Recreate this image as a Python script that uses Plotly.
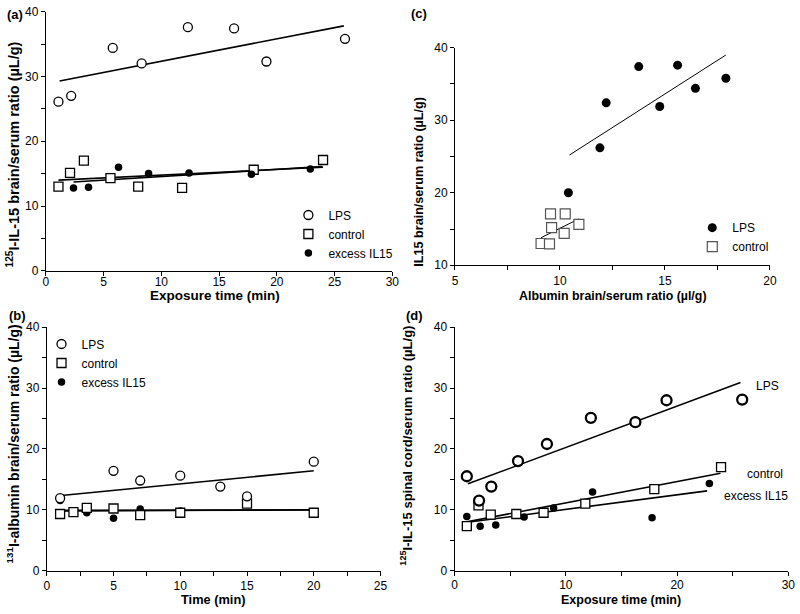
import plotly.graph_objects as go

# ---------------- data ----------------
# Panel (a): 125I-IL-15 brain/serum ratio vs exposure time
a_lps_x = [1.1, 2.2, 5.8, 8.3, 12.3, 16.3, 19.1, 25.9]
a_lps_y = [26.1, 27.0, 34.4, 32.0, 37.6, 37.4, 32.3, 35.8]
a_ctrl_x = [1.1, 2.1, 3.3, 5.6, 8.0, 11.8, 18.0, 24.0]
a_ctrl_y = [13.0, 15.1, 17.0, 14.3, 13.0, 12.8, 15.6, 17.1]
a_exc_x = [2.4, 3.7, 6.3, 8.9, 12.4, 17.8, 22.9]
a_exc_y = [12.8, 12.9, 16.0, 15.0, 15.1, 14.9, 15.7]
a_lps_fit_x = [1.2, 25.8]
a_lps_fit_y = [29.3, 37.8]
a_ctrl_fit_x = [1.1, 24.0]
a_ctrl_fit_y = [14.0, 16.0]
a_exc_fit_x = [2.4, 23.9]
a_exc_fit_y = [13.7, 16.1]

# Panel (b): 131I-albumin brain/serum ratio vs time
b_lps_x = [1, 5, 7, 10, 13, 15, 20]
b_lps_y = [11.9, 16.4, 14.8, 15.6, 13.8, 12.2, 17.9]
b_ctrl_x = [1, 2, 3, 5, 7, 10, 15, 20]
b_ctrl_y = [9.3, 9.6, 10.3, 10.2, 9.1, 9.5, 11.0, 9.5]
b_exc_x = [1, 3, 5, 7, 10, 15, 20]
b_exc_y = [11.5, 9.5, 8.6, 10.1, 9.8, 11.3, 9.6]
b_lps_fit_x = [0.9, 20.0]
b_lps_fit_y = [12.3, 16.4]
b_ctrl_fit_x = [0.9, 20.3]
b_ctrl_fit_y = [9.8, 10.0]
b_exc_fit_x = [0.9, 20.3]
b_exc_fit_y = [9.9, 9.95]

# Panel (c): IL15 vs albumin brain/serum ratio
c_lps_x = [10.4, 11.9, 12.2, 13.75, 14.75, 15.6, 16.45, 17.9]
c_lps_y = [20.0, 26.2, 32.4, 37.4, 31.9, 37.6, 34.4, 35.8]
c_ctrl_x = [9.1, 9.5, 9.55, 9.6, 10.25, 10.2, 10.9]
c_ctrl_y = [13.0, 12.95, 17.1, 15.2, 17.1, 14.4, 15.65]
c_lps_fit_x = [10.45, 17.9]
c_lps_fit_y = [25.2, 39.0]
c_ctrl_fit_x = [9.1, 10.9]
c_ctrl_fit_y = [13.8, 16.4]

# Panel (d): 125I-IL-15 spinal cord/serum ratio vs exposure time
d_lps_x = [1.1, 2.2, 3.3, 5.7, 8.3, 12.25, 16.25, 19.05, 25.85]
d_lps_y = [15.5, 11.5, 13.8, 18.0, 20.8, 25.1, 24.4, 28.0, 28.1]
d_ctrl_x = [1.1, 2.15, 3.25, 5.55, 8.0, 11.75, 17.95, 23.95]
d_ctrl_y = [7.3, 10.7, 9.2, 9.3, 9.5, 11.0, 13.4, 17.0]
d_exc_x = [1.1, 2.3, 3.7, 6.25, 8.9, 12.4, 17.75, 22.9]
d_exc_y = [8.9, 7.3, 7.5, 8.8, 10.3, 12.9, 8.7, 14.3]
d_lps_fit_x = [1.2, 25.7]
d_lps_fit_y = [14.25, 30.9]
d_ctrl_fit_x = [1.1, 23.9]
d_ctrl_fit_y = [8.0, 16.0]
d_exc_fit_x = [1.0, 22.7]
d_exc_fit_y = [7.9, 13.1]

# ---------------- styles ----------------
FONT = "Arial, Liberation Sans, sans-serif"
W, H = 800, 614
BLACK = "black"

open_circle = dict(symbol="circle", size=9, color="white", line=dict(color=BLACK, width=1.3))
open_circle_bold = dict(symbol="circle", size=10, color="white", line=dict(color=BLACK, width=2.3))
open_square = dict(symbol="square", size=9, color="white", line=dict(color=BLACK, width=1.3))
gray_square = dict(symbol="square", size=10, color="white", line=dict(color="#555555", width=1.2))
filled_circle = dict(symbol="circle", size=7.5, color=BLACK, line=dict(width=0))
filled_circle_big = dict(symbol="circle", size=9, color=BLACK, line=dict(width=0))

fig = go.Figure()

def line(x, y, xa, ya, width=1.6):
    fig.add_trace(go.Scatter(x=x, y=y, mode="lines", xaxis=xa, yaxis=ya,
                             line=dict(color=BLACK, width=width),
                             showlegend=False, hoverinfo="skip"))

def pts(x, y, xa, ya, marker, name, legend=None):
    fig.add_trace(go.Scatter(x=x, y=y, mode="markers", xaxis=xa, yaxis=ya,
                             marker=marker, name=name,
                             showlegend=legend is not None,
                             legend=legend if legend else "legend"))

# Panel (a)
line(a_lps_fit_x, a_lps_fit_y, "x", "y")
line(a_ctrl_fit_x, a_ctrl_fit_y, "x", "y")
line(a_exc_fit_x, a_exc_fit_y, "x", "y")
pts(a_lps_x, a_lps_y, "x", "y", open_circle, "LPS", "legend")
pts(a_ctrl_x, a_ctrl_y, "x", "y", open_square, "control", "legend")
pts(a_exc_x, a_exc_y, "x", "y", filled_circle, "excess IL15", "legend")

# Panel (b)
line(b_lps_fit_x, b_lps_fit_y, "x3", "y3")
line(b_ctrl_fit_x, b_ctrl_fit_y, "x3", "y3")
line(b_exc_fit_x, b_exc_fit_y, "x3", "y3")
pts(b_exc_x, b_exc_y, "x3", "y3", filled_circle, "excess IL15", None)
pts(b_ctrl_x, b_ctrl_y, "x3", "y3", open_square, "control", None)
pts(b_lps_x, b_lps_y, "x3", "y3", open_circle, "LPS", None)
# legend entries (b) in the original order
fig.add_trace(go.Scatter(x=[None], y=[None], mode="markers", xaxis="x3", yaxis="y3",
                         marker=open_circle, name="LPS", legend="legend3"))
fig.add_trace(go.Scatter(x=[None], y=[None], mode="markers", xaxis="x3", yaxis="y3",
                         marker=open_square, name="control", legend="legend3"))
fig.add_trace(go.Scatter(x=[None], y=[None], mode="markers", xaxis="x3", yaxis="y3",
                         marker=filled_circle, name="excess IL15", legend="legend3"))

# Panel (c)
line(c_lps_fit_x, c_lps_fit_y, "x2", "y2", width=1.0)
line(c_ctrl_fit_x, c_ctrl_fit_y, "x2", "y2", width=1.0)
pts(c_lps_x, c_lps_y, "x2", "y2", filled_circle_big, "LPS", "legend2")
pts(c_ctrl_x, c_ctrl_y, "x2", "y2", gray_square, "control", "legend2")

# Panel (d)
line(d_lps_fit_x, d_lps_fit_y, "x4", "y4")
line(d_ctrl_fit_x, d_ctrl_fit_y, "x4", "y4")
line(d_exc_fit_x, d_exc_fit_y, "x4", "y4")
pts(d_exc_x, d_exc_y, "x4", "y4", filled_circle, "excess IL15", None)
pts(d_ctrl_x, d_ctrl_y, "x4", "y4", open_square, "control", None)
pts(d_lps_x, d_lps_y, "x4", "y4", open_circle_bold, "LPS", None)

# ---------------- axes ----------------
def px_x(p):
    return p / W

def px_y(p):
    return 1 - p / H

def axis(rng, dtick, minor, domain, anchor, standoff=0):
    d = dict(range=rng, domain=domain, anchor=anchor, dtick=dtick, tick0=0,
             ticks="outside", ticklen=4, tickwidth=1, tickcolor=BLACK,
             showline=True, linecolor=BLACK, linewidth=1,
             showgrid=False, zeroline=False, fixedrange=True,
             ticklabelstandoff=standoff,
             tickfont=dict(family=FONT, size=12, color=BLACK))
    if minor:
        d["minor"] = dict(dtick=minor, tick0=0, ticks="outside", ticklen=4,
                          tickwidth=1, tickcolor=BLACK, showgrid=False)
    return d

fig.update_layout(
    xaxis=axis([0, 30], 5, None, [px_x(43.3), px_x(394.3)], "y", standoff=-4),
    yaxis=axis([0, 40], 10, 5, [px_y(270), px_y(4.7)], "x"),
    xaxis2=axis([5, 20], 5, 2.5, [px_x(457.7), px_x(776.7)], "y2"),
    yaxis2=axis([10, 40], 10, 5, [px_y(264.3), px_y(41.7)], "x2"),
    xaxis3=axis([0, 25], 5, 2.5, [px_x(44.3), px_x(382.3)], "y3"),
    yaxis3=axis([0, 40], 10, 5, [px_y(576.7), px_y(327.7)], "x3"),
    xaxis4=axis([0, 30], 10, 5, [px_x(457.3), px_x(795.3)], "y4", standoff=-1),
    yaxis4=axis([0, 40], 10, 5, [px_y(576.7), px_y(327.7)], "x4"),
)

leg_common = dict(font=dict(family=FONT, size=12, color=BLACK), bgcolor="rgba(0,0,0,0)",
                  borderwidth=0, xanchor="left", yanchor="top", traceorder="normal",
                  itemclick=False, itemdoubleclick=False)
fig.update_layout(
    legend=dict(x=px_x(289), y=px_y(198), **leg_common),
    legend2=dict(x=px_x(698), y=px_y(211), **leg_common),
    legend3=dict(x=px_x(39), y=px_y(330), **leg_common),
)

# ---------------- text ----------------
ann = []

def txt(s, x, y, size=12, angle=0, xanchor="center", bold=False, xref="paper", yref="paper"):
    ann.append(dict(text=("<b>%s</b>" % s) if bold else s, x=x, y=y, xref=xref, yref=yref,
                    xanchor=xanchor, yanchor="middle", showarrow=False, textangle=angle,
                    font=dict(family=FONT, size=size, color=BLACK)))

# panel labels
txt("(a)", px_x(2), px_y(8), 13, xanchor="left", bold=True)
txt("(c)", px_x(411), px_y(7), 13, xanchor="left", bold=True)
txt("(b)", px_x(4), px_y(315.7), 13, xanchor="left", bold=True)
txt("(d)", px_x(406), px_y(315.7), 13, xanchor="left", bold=True)

# x titles
txt("Exposure time (min)", px_x(215), px_y(295.5), 13.5, bold=True)
txt("Albumin brain/serum ratio (\u00b5l/g)", px_x(618), px_y(295.5), 12.4, bold=True)
txt("Time (min)", px_x(213), px_y(606.5), 12.8, bold=True)
txt("Exposure time (min)", px_x(626), px_y(606.5), 12.5, bold=True)

# y titles
txt("<sup>125</sup>I-IL-15 brain/serum ratio (\u00b5L/g)", px_x(10), px_y(151), 14.5, angle=-90, bold=True)
txt("IL15 brain/serum ratio (\u00b5L/g)", px_x(421), px_y(179), 12.6, angle=-90, bold=True)
txt("<sup>131</sup>I-albumin brain/serum ratio (\u00b5L/g)", px_x(10), px_y(446.7), 14, angle=-90, bold=True)
txt("<sup>125</sup>I-IL-15 spinal cord/serum ratio (\u00b5L/g)", px_x(408), px_y(449), 13, angle=-90, bold=True)

# direct labels in panel (d)
txt("LPS", 26.95, 30.4, 12, xanchor="left", xref="x4", yref="y4")
txt("control", 26.1, 15.9, 12, xanchor="left", xref="x4", yref="y4")
txt("excess IL15", 24.0, 12.3, 12, xanchor="left", xref="x4", yref="y4")

fig.update_layout(
    annotations=ann,
    width=W, height=H,
    margin=dict(l=0, r=0, t=0, b=0),
    paper_bgcolor="white", plot_bgcolor="white",
    font=dict(family=FONT, size=12, color=BLACK),
    hovermode=False,
)

fig.write_html("out.html", config={"displayModeBar": False},
               post_script="document.body.style.margin='0px';document.body.style.overflow='hidden';")
